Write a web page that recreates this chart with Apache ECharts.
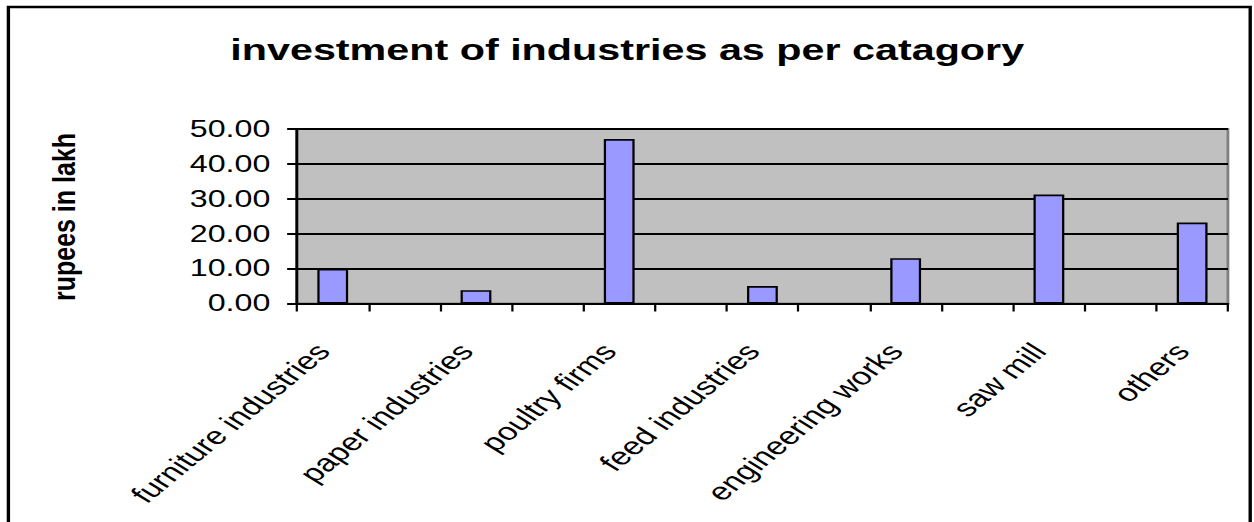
<!DOCTYPE html>
<html>
<head>
<meta charset="utf-8">
<script src="https://cdn.jsdelivr.net/npm/echarts@6/dist/echarts.min.js"></script>
<style>
  html, body { margin: 0; padding: 0; background: #fff; overflow: hidden; }
  #wrap { width: 1254px; height: 522px; overflow: hidden; }
  /* the chart is laid out narrow and widened horizontally as a whole */
  #chart { width: 896px; height: 522px; transform: scaleX(1.4); transform-origin: 0 0; }
</style>
</head>
<body>
<div id="wrap"><div id="chart"></div></div>
<script>
// Investment per industry category (rupees in lakh); blank slots sit between categories
const categories = [
  'furniture industries', '', 'paper industries', '', 'poultry firms', '',
  'feed industries', '', 'engineering works', '', 'saw mill', '', 'others'
];
const investment = [9.9, null, 3.8, null, 47.1, null, 5.0, null, 13.0, null, 31.2, null, 23.2];
const yTicks = { min: 0, max: 50, interval: 10 };
const titleText = 'investment of industries as per catagory';
const yAxisName = 'rupees in lakh';

const FONT = '"Liberation Sans", Arial, sans-serif';

const chart = echarts.init(document.getElementById('chart'), null, { renderer: 'svg' });

chart.setOption({
  backgroundColor: '#ffffff',
  animation: false,
  title: {
    text: titleText,
    left: 'center',
    top: 30,
    textStyle: { fontFamily: FONT, fontWeight: 'bold', fontSize: 29.5, color: '#000' }
  },
  graphic: [
    {
      type: 'rect',
      shape: { x: 6, y: 7, width: 887, height: 540 },
      style: { fill: 'none', stroke: '#000', lineWidth: 2.4 },
      z: 100
    },
    {
      type: 'text',
      x: 46,
      y: 217,
      rotation: Math.PI / 2,
      scaleY: 0.88,
      style: {
        text: yAxisName,
        fontFamily: FONT,
        fontWeight: 'bold',
        fontSize: 25,
        fill: '#000',
        align: 'center',
        verticalAlign: 'middle'
      }
    }
  ],
  grid: {
    left: 212.1,
    right: 18.9,
    top: 129,
    bottom: 218.5,
    show: true,
    backgroundColor: '#C0C0C0',
    borderColor: '#808080',
    borderWidth: 2
  },
  xAxis: {
    type: 'category',
    data: categories,
    axisLine: { show: true, lineStyle: { color: '#000', width: 2 } },
    axisTick: { show: true, interval: 0, alignWithLabel: false, length: 8, inside: false,
                lineStyle: { color: '#000', width: 1.6 } },
    axisLabel: {
      interval: 0,
      rotate: 49,
      margin: 35,
      padding: [0, 11, 0, 0],
      fontFamily: FONT,
      fontSize: 24.5,
      color: '#000'
    },
    splitLine: { show: false }
  },
  yAxis: {
    type: 'value',
    min: yTicks.min,
    max: yTicks.max,
    interval: yTicks.interval,
    axisLine: { show: true, lineStyle: { color: '#000', width: 2 } },
    axisTick: { show: true, length: 7, lineStyle: { color: '#000', width: 2 } },
    axisLabel: {
      margin: 19,
      fontFamily: FONT,
      fontSize: 23,
      color: '#000',
      formatter: v => v.toFixed(2)
    },
    splitLine: { show: true, lineStyle: { color: '#000', width: 2 } }
  },
  series: [{
    type: 'bar',
    data: investment,
    barWidth: 22,
    itemStyle: { color: '#9999FF', borderColor: '#000', borderWidth: 1.6 }
  }]
});
</script>
</body>
</html>
